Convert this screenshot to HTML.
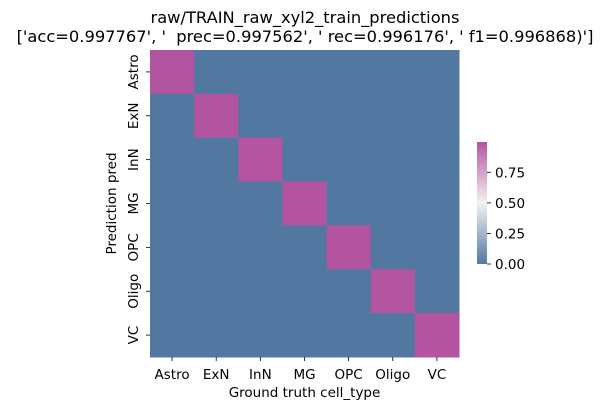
<!DOCTYPE html>
<html><head><meta charset="utf-8"><style>
body{margin:0;background:#fff;}
svg text{font-family:"DejaVu Sans","Liberation Sans",sans-serif;fill:#000;white-space:pre;}
</style></head><body>
<svg id="chart" width="607" height="411">
<defs><linearGradient id="cb" x1="0" y1="1" x2="0" y2="0">
<stop offset="0" stop-color="#5278a2"/><stop offset="0.5" stop-color="#f2f2f2"/><stop offset="1" stop-color="#b354a0"/>
</linearGradient></defs>
<text x="305" y="23" font-size="16.3" text-anchor="middle">raw/TRAIN_raw_xyl2_train_predictions</text>
<text x="305" y="42" font-size="16.3" text-anchor="middle">['acc=0.997767', '  prec=0.997562', ' rec=0.996176', ' f1=0.996868)']</text>
<g id="cells"></g><g id="xt"></g><g id="yt"></g>
<text x="304.5" y="397" font-size="13.5" text-anchor="middle">Ground truth cell_type</text>
<text transform="translate(116,203.5) rotate(-90)" font-size="13.5" text-anchor="middle">Prediction pred</text>
<rect x="477" y="142" width="10" height="122" fill="url(#cb)"/>
<g id="cbt"></g>
</svg>
<script>
const labels=["Astro","ExN","InN","MG","OPC","Oligo","VC"];
const diag=[0.998,0.997,0.996,0.998,0.997,0.996,0.999];
const cbTicks=[0,0.25,0.5,0.75];
const cbLabels=["0.00","0.25","0.50","0.75"];
const NS="http://www.w3.org/2000/svg";
const X0=150,Y0=50,W=309,H=307,n=labels.length,cw=W/n,ch=H/n;
const vmin=0,vmax=0.998,cbTop=142,cbBot=264;
function cy(v){return cbBot-(v-vmin)/(vmax-vmin)*(cbBot-cbTop);}
function lerp(a,b,t){return a.map((x,i)=>Math.round(x+(b[i]-x)*t));}
function color(v){const t=(v-vmin)/(vmax-vmin);const lo=[82,120,162],mid=[242,242,242],hi=[179,84,160];
 const c=t<0.5?lerp(lo,mid,t*2):lerp(mid,hi,(t-0.5)*2);return `rgb(${c})`;}
function mk(tag,attrs,parent){const e=document.createElementNS(NS,tag);for(const k in attrs)e.setAttribute(k,attrs[k]);parent.appendChild(e);return e;}
const cells=document.getElementById('cells');
for(let i=0;i<n;i++)for(let j=0;j<n;j++){
 const v=i===j?diag[i]:0;
 const r=mk('rect',{x:X0+j*cw,y:Y0+i*ch,width:cw+0.5,height:ch+0.5,fill:color(v)},cells);
 
 
}
const xt=document.getElementById('xt'),yt=document.getElementById('yt');
labels.forEach((l,i)=>{
 const x=X0+(i+0.5)*cw;
 mk('line',{x1:x,x2:x,y1:357,y2:361,stroke:'#000','stroke-width':0.8},xt);
 const t=mk('text',{x:x,y:379,'font-size':13.5,'text-anchor':'middle'},xt);t.textContent=l;
 
 
 const y=Y0+(i+0.5)*ch;
 mk('line',{x1:146,x2:150,y1:y,y2:y,stroke:'#000','stroke-width':0.8},yt);
 const u=mk('text',{transform:`translate(138,${y}) rotate(-90)`,'font-size':13.5,'text-anchor':'middle'},yt);u.textContent=l;
 
 
});
const cbt=document.getElementById('cbt');
cbTicks.forEach((v,i)=>{const y=cy(v);
 mk('line',{x1:487,x2:491,y1:y,y2:y,stroke:'#000','stroke-width':0.8},cbt);
 const t=mk('text',{x:495,y:y+5,'font-size':13.5},cbt);t.textContent=cbLabels[i];
 
 
});
</script>
</body></html>
